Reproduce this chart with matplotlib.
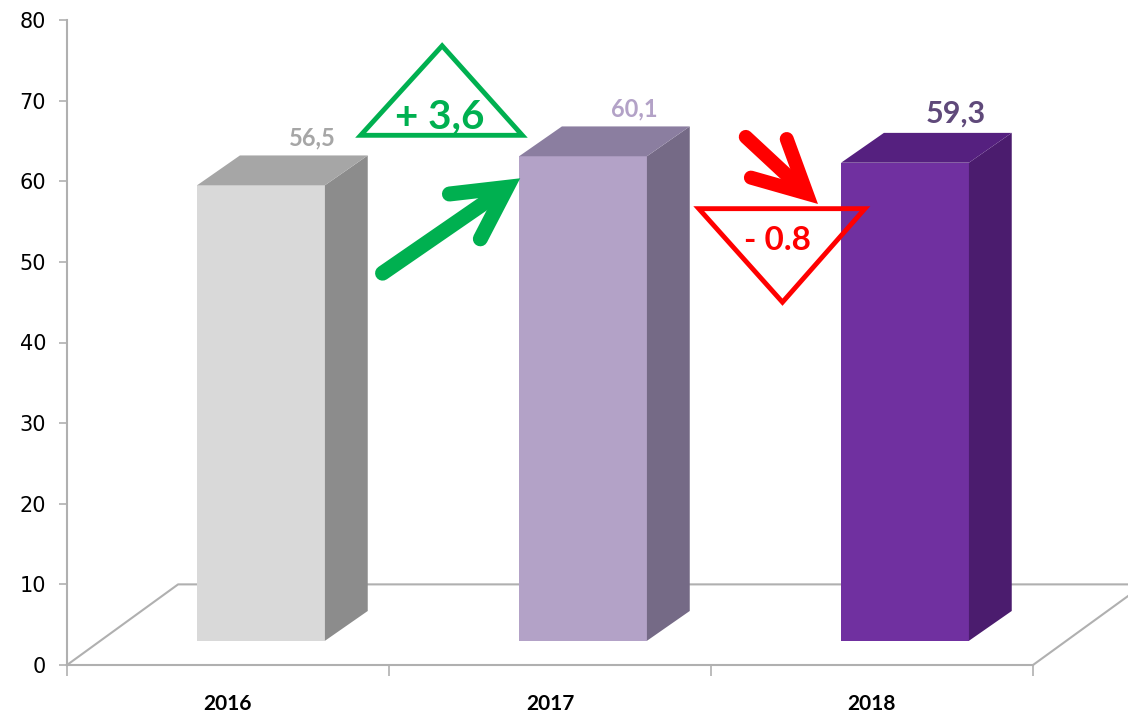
import numpy as np
import matplotlib.pyplot as plt

years = ['2016', '2017', '2018']
values = [56.5, 60.1, 59.3]
labels = ['56,5', '60,1', '59,3']

front_colors = ['#d9d9d9', '#b3a2c7', '#7030a0']
side_colors = ['#8c8c8c', '#756a86', '#4b1c6e']
top_colors = ['#a6a6a6', '#8b7ea0', '#55207f']
label_colors = ['#a6a6a6', '#b3a2c7', '#5f497a']
label_sizes = [17, 17, 22]

# fake 3d geometry (data units)
base = 3.0
off = 0.404
width = 0.397
dx, dy = 0.133, 3.7
floor_dx, floor_dy = 0.345, 10

fig = plt.figure(figsize=(11.28, 7.13), dpi=100)
ax = fig.add_axes([67 / 1128, 48 / 713, 966 / 1128, 645 / 713])
ax.set_xlim(0, 3)
ax.set_ylim(0, 80)

gray = '#b0b0b0'
# floor
ax.plot([0, floor_dx, 3 + floor_dx], [0, floor_dy, floor_dy], color=gray, lw=1.5, clip_on=False, zorder=1)
ax.plot([3, 3 + floor_dx], [0, floor_dy], color=gray, lw=1.5, clip_on=False, zorder=1)

x = np.arange(len(years))
ax.bar(x + off, values, width=width, bottom=base, align='edge', color=front_colors, zorder=3)
for i, v in enumerate(values):
    x0 = i + off
    x1 = x0 + width
    top = base + v
    ax.fill([x1, x1 + dx, x1 + dx, x1], [base, base + dy, top + dy, top], color=side_colors[i], zorder=3, lw=0)
    ax.fill([x0, x1, x1 + dx, x0 + dx], [top, top, top + dy, top + dy], color=top_colors[i], zorder=3, lw=0)
    ax.text(x1 - 0.04, top + dy + 1.3, labels[i], color=label_colors[i], fontsize=label_sizes[i],
            fontweight='bold', family='Lato', ha='center', va='baseline')


def draw_arrow(tail, tip, color, lw_px, barb_px, ang):
    # thick arrow with open chevron head, built in pixel space
    t = ax.transData
    p0 = t.transform(tail)
    p1 = t.transform(tip)
    u = (p1 - p0) / np.linalg.norm(p1 - p0)
    v = p1 - u * lw_px
    a = np.radians(ang)
    rot = lambda d: np.array([u[0] * np.cos(d) - u[1] * np.sin(d), u[0] * np.sin(d) + u[1] * np.cos(d)])
    b1 = v - rot(a) * barb_px
    b2 = v - rot(-a) * barb_px
    inv = t.inverted()
    lw = lw_px * 72 / fig.dpi
    sh = inv.transform([p0, v - u * 4])
    hd = inv.transform([b1, v, b2])
    ax.plot(sh[:, 0], sh[:, 1], color=color, lw=lw, solid_capstyle='round', zorder=6, clip_on=False)
    ax.plot(hd[:, 0], hd[:, 1], color=color, lw=lw, solid_capstyle='round', solid_joinstyle='miter',
            zorder=6, clip_on=False)


# change markers
green = '#00b050'
red = '#ff0000'
ax.add_patch(plt.Polygon([[0.912, 65.7], [1.414, 65.7], [1.165, 76.8]], closed=True, fill=False,
                         edgecolor=green, lw=3.5, clip_on=False, zorder=5))
ax.text(1.158, 68.0, '+ 3,6', color=green, fontsize=29, fontweight='bold', family='Lato', ha='center', va='center')
draw_arrow((0.98, 48.6), (1.405, 60.3), green, 15, 58, 28)

ax.add_patch(plt.Polygon([[1.962, 56.6], [2.478, 56.6], [2.222, 45.0]], closed=True, fill=False,
                         edgecolor=red, lw=3.5, clip_on=False, zorder=5))
ax.text(2.205, 52.6, '- 0.8', color=red, fontsize=24, fontweight='bold', family='Lato', ha='center', va='center')
draw_arrow((2.108, 65.5), (2.329, 57.3), red, 14, 58, 27)

# axes styling
for s in ['top', 'right']:
    ax.spines[s].set_visible(False)
ax.spines['left'].set_color(gray)
ax.spines['bottom'].set_color(gray)
ax.spines['left'].set_linewidth(1.5)
ax.spines['bottom'].set_linewidth(1.5)
ax.set_yticks(range(0, 81, 10))
ax.tick_params(axis='y', colors=gray, labelcolor='black', labelsize=15, length=6, width=1.2, pad=9)
ax.set_xticks([0, 1, 2, 3])
ax.set_xticklabels([])
ax.tick_params(axis='x', which='major', colors=gray, length=8, width=1.2)
ax.set_xticks(x + 0.5, minor=True)
ax.set_xticklabels(years, minor=True, fontsize=15, fontweight='bold', family='Lato')
ax.tick_params(axis='x', which='minor', length=0, pad=21, labelcolor='black')

fig.savefig('out.png', dpi=100)
